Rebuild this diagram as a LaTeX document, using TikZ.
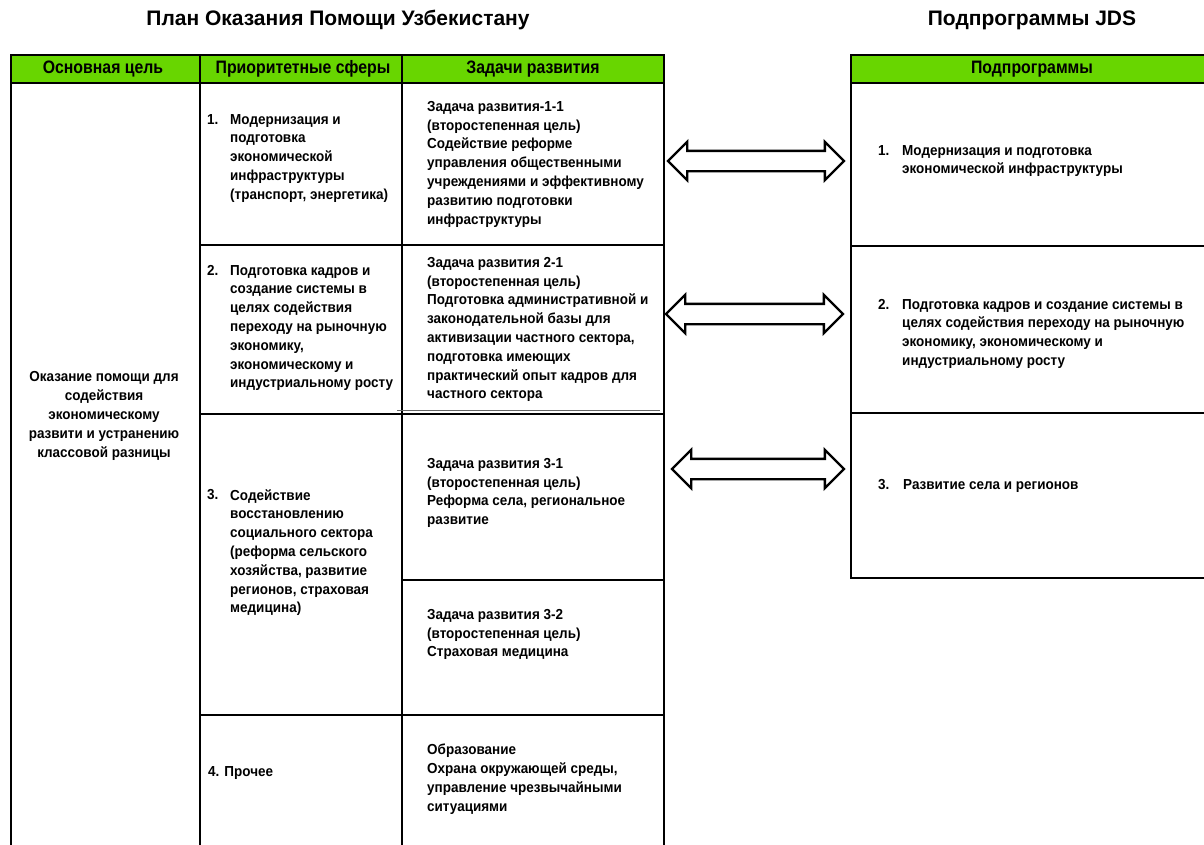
\documentclass[tikz,border=0pt]{standalone}
\usepackage{fontspec}
\setmainfont{Liberation Sans}
\newfontfamily\bodyfont[FakeStretch=0.93]{Liberation Sans}
\newfontfamily\headfont[FakeStretch=0.88]{Liberation Sans}
\usetikzlibrary{shapes.arrows}
\definecolor{hdrgreen}{RGB}{104,214,0}
\begin{document}
\begin{tikzpicture}[x=1pt,y=-1pt,
  txt/.style={inner sep=0pt, font=\bodyfont\bfseries\fontsize{14.5}{18.8}\selectfont, align=left, anchor=north west},
  ctxt/.style={inner sep=0pt, font=\bodyfont\bfseries\fontsize{14.5}{18.8}\selectfont, align=center},
  hdr/.style={inner sep=0pt, font=\headfont\bfseries\fontsize{18}{20}\selectfont},
  ttl/.style={inner sep=0pt, font=\bfseries\fontsize{21}{24}\selectfont},
  grid/.style={line width=2pt, line cap=rect},
  hdrbox/.style={line width=2.6pt, fill=hdrgreen},
  darrow/.style={double arrow, draw, fill=white, line width=2.4pt, minimum width=36pt, double arrow head extend=9pt, inner xsep=0pt, inner ysep=9pt}
]
\useasboundingbox (0,0) rectangle (1204,844);

% titles
\node[ttl] (title1) at (338,20) {План Оказания Помощи Узбекистану};
\node[ttl] (title2) at (1032,20) {Подпрограммы JDS};

% left table header
\draw[hdrbox] (11,55) rectangle (664,83);
\draw[line width=2.6pt] (200,55) -- (200,83) (402,55) -- (402,83);
\node[hdr] (h1) at (103,69) {Основная цель};
\node[hdr] (h2) at (303,69) {Приоритетные сферы};
\node[hdr] (h3) at (533,69) {Задачи развития};

% left table body
\draw[grid] (11,83) -- (11,846) (200,83) -- (200,846) (402,83) -- (402,846) (664,83) -- (664,846);
\draw[grid] (200,245) -- (664,245) (200,414) -- (664,414) (402,580) -- (664,580) (200,715) -- (664,715);
\draw[line width=1pt, black!60] (397,410.5) -- (660,410.5);

% right table
\draw[hdrbox] (851,55) rectangle (1210,83);
\node[hdr] (h4) at (1032,69) {Подпрограммы};
\draw[grid] (851,83) -- (851,578) -- (1210,578) (851,246) -- (1210,246) (851,413) -- (1210,413);

% left column
\node[ctxt] (goal) at (104,416) {Оказание помощи для\\содействия\\экономическому\\развити и устранению\\классовой разницы};

% priority areas
\node[txt] (n1) at (207,114) {1.};
\node[txt] (p1) at (230,114) {Модернизация и\\подготовка\\экономической\\инфраструктуры\\(транспорт, энергетика)};
\node[txt] (n2) at (207,265) {2.};
\node[txt] (p2) at (230,265) {Подготовка кадров и\\создание системы в\\целях содействия\\переходу на рыночную\\экономику,\\экономическому и\\индустриальному росту};
\node[txt] (n3) at (207,489) {3.};
\node[txt] (p3) at (230,489) {Содействие\\восстановлению\\социального сектора\\(реформа сельского\\хозяйства, развитие\\регионов, страховая\\медицина)};
\node[txt] (p4) at (208,766) {4. Прочее};

% development tasks
\node[txt] (g1) at (427,101) {Задача развития-1-1\\(второстепенная цель)\\Содействие реформе\\управления общественными\\учреждениями и эффективному\\развитию подготовки\\инфраструктуры};
\node[txt] (g2) at (427,257) {Задача развития 2-1\\(второстепенная цель)\\Подготовка административной и\\законодательной базы для\\активизации частного сектора,\\подготовка имеющих\\практический опыт кадров для\\частного сектора};
\node[txt] (g3) at (427,458) {Задача развития 3-1\\(второстепенная цель)\\Реформа села, региональное\\развитие};
\node[txt] (g4) at (427,609) {Задача развития 3-2\\(второстепенная цель)\\Страховая медицина};
\node[txt] (g5) at (427,744) {Образование\\Охрана окружающей среды,\\управление чрезвычайными\\ситуациями};

% subprograms
\node[txt] (rn1) at (878,145) {1.};
\node[txt] (r1) at (902,145) {Модернизация и подготовка\\экономической инфраструктуры};
\node[txt] (rn2) at (878,299) {2.};
\node[txt] (r2) at (902,299) {Подготовка кадров и создание системы в\\целях содействия переходу на рыночную\\экономику, экономическому и\\индустриальному росту};
\node[txt] (rn3) at (878,479) {3.};
\node[txt] (r3) at (903,479) {Развитие села и регионов};

% double arrows
\node[darrow, minimum height=176pt] (a1) at (756,161) {};
\node[darrow, minimum height=177pt] (a2) at (754.5,314) {};
\node[darrow, minimum height=172pt] (a3) at (758,469) {};
\end{tikzpicture}
\end{document}
